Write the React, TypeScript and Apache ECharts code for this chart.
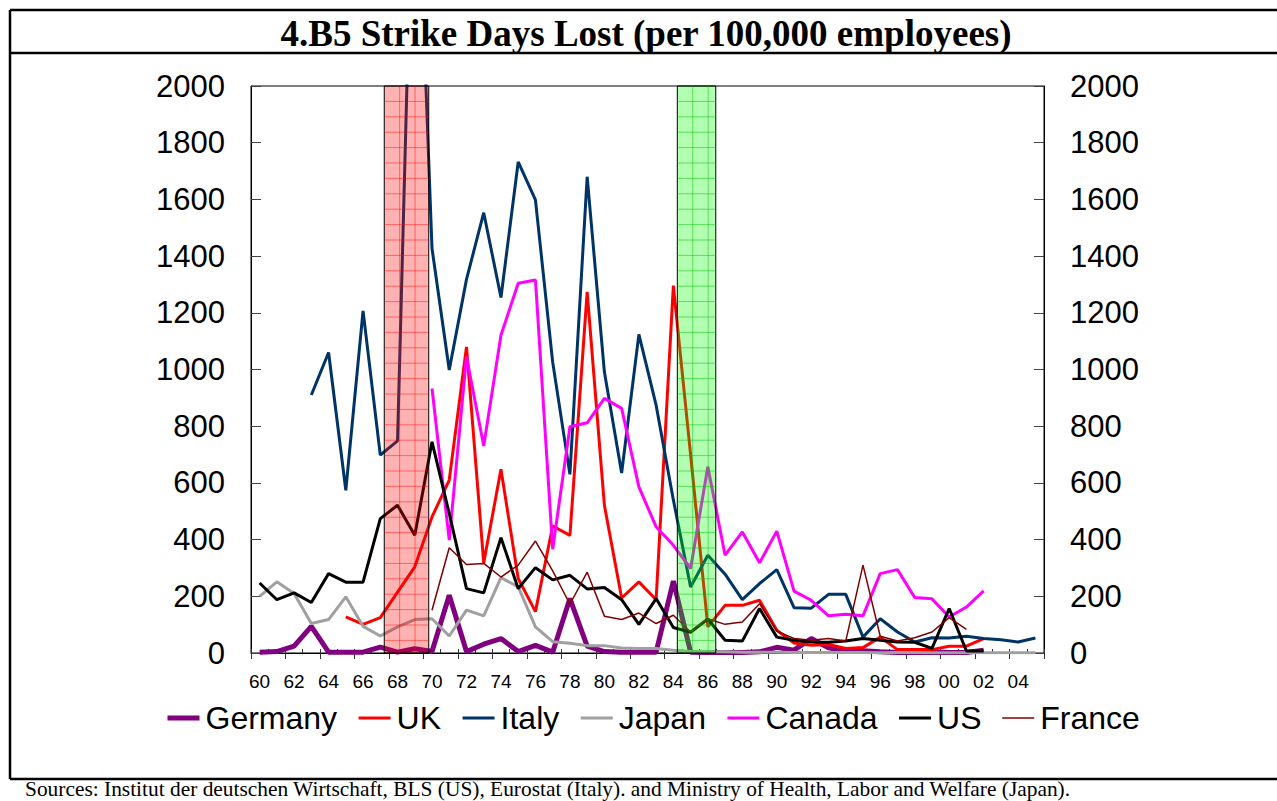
import React, { useEffect, useRef } from "react";
import * as echarts from "echarts";

const years = [
  "60","61","62","63","64","65","66","67","68","69",
  "70","71","72","73","74","75","76","77","78","79",
  "80","81","82","83","84","85","86","87","88","89",
  "90","91","92","93","94","95","96","97","98","99",
  "00","01","02","03","04","05",
];

const germany = [3,5,24,94,3,3,3,21,3,15, 5,204,5,31,51,5,27,3,192,24, 5,3,3,3,254,3,2,2,2,4, 20,10,51,18,8,8,4,2,2,3, 2,2,10,null,null,null];
const uk = [null,null,null,null,null,127,101,125,215,304, 480,610,1080,318,648,263,146,448,415,1274, 521,194,251,188,1296,700,92,168,168,186, 80,35,27,30,16,19,56,12,12,12, 24,24,51,null,null,null];
const italy = [null,null,null,910,1060,574,1207,698,748,3050, 1427,998,1318,1553,1254,1732,1598,1026,630,1680, 991,635,1124,874,540,233,345,278,188,245, 294,160,158,207,207,56,121,74,39,54, 53,59,51,47,39,53];
const japan = [200,251,210,104,118,198,94,60,92,118, 121,60,151,131,266,233,92,40,34,26, 26,18,16,16,10,5,5,4,3,3, 3,2,2,2,2,2,1,2,2,1, 1,1,1,1,1,1];
const canada = [null,null,null,null,null,null,null,null,null,null, 933,398,1045,730,1121,1304,1316,366,798,812, 898,863,586,445,380,298,657,345,427,318, 430,218,186,131,137,131,280,294,196,191, 127,162,219,null,null,null];
const us = [247,188,212,178,280,250,250,474,521,415, 745,492,227,212,407,227,301,258,274,226, 231,188,101,192,90,73,120,45,42,157, 56,45,39,38,42,51,45,39,38,16, 157,7,7,null,null,null];
const france = [null,null,null,null,null,null,null,null,null,null, 151,371,312,316,268,310,395,290,172,285, 130,118,141,104,133,74,121,101,109,174, 77,51,45,51,42,310,59,42,54,74, 125,83,null,null,null,null];

// shaded periods, in category-boundary units (0 = left edge of 1960)
const bandStart = [7.73, 24.73];
const bandEnd = [10.31, 26.96];

const seriesNames = ["Germany", "UK", "Italy", "Japan", "Canada", "US", "France"];
const seriesData = [germany, uk, italy, japan, canada, us, france];
const seriesColors = ["#800080", "#FF0000", "#003366", "#A0A0A0", "#FF00FF", "#000000", "#800000"];
const seriesWidths = [5, 3, 3, 3, 3, 3, 1.5];

const SANS = "'Liberation Sans', Arial, sans-serif";
const SERIF = "'Liberation Serif', 'Times New Roman', serif";

export default function App() {
  const ref = useRef<HTMLDivElement>(null);

  useEffect(() => {
    if (!ref.current) return;
    const chart = echarts.init(ref.current, null, { renderer: "svg" });

    const lineSeries = seriesNames.map((name, i) => ({
      name,
      type: "line",
      data: seriesData[i],
      xAxisIndex: 0,
      yAxisIndex: 0,
      symbol: "none",
      connectNulls: false,
      clip: true,
      z: 2,
      lineStyle: { color: seriesColors[i], width: seriesWidths[i] },
      itemStyle: { color: seriesColors[i] },
    }));

    const bandData = bandStart.map((s, i) => [s, bandEnd[i]]);
    const yLabel = (v: number) => String(v);

    const option: any = {
      animation: false,
      backgroundColor: "#fff",
      grid: {
        left: 251,
        right: 233,
        top: 86,
        bottom: 148,
        show: true,
        borderColor: "#000",
        borderWidth: 1,
        backgroundColor: "transparent",
      },
      legend: {
        data: seriesNames.map((n, i) => ({
          name: n,
          lineStyle: { color: seriesColors[i], width: seriesWidths[i] },
        })),
        left: 160,
        top: 697,
        itemWidth: 32,
        itemHeight: 12,
        itemGap: 20,
        itemStyle: { opacity: 0, borderWidth: 0 },
        textStyle: { fontSize: 32, fontFamily: SANS, color: "#000", padding: [0, 0, 0, 1] },
      },
      xAxis: [
        {
          type: "category",
          data: years,
          boundaryGap: true,
          position: "bottom",
          axisLine: { show: true, lineStyle: { color: "#000", width: 1 } },
          axisTick: { show: true, interval: 0, inside: true, length: 4, lineStyle: { color: "#333" } },
          axisLabel: { interval: 1, fontSize: 19, margin: 19, color: "#000", fontFamily: SANS },
          splitLine: { show: false },
        },
        {
          type: "value",
          min: 0,
          max: 46,
          interval: 2,
          position: "bottom",
          axisLine: { show: false },
          axisTick: { show: true, inside: false, length: 6, lineStyle: { color: "#333" } },
          axisLabel: { show: false },
          splitLine: { show: false },
        },
      ],
      yAxis: [
        {
          type: "value",
          min: 0,
          max: 2000,
          interval: 200,
          position: "left",
          axisLine: { show: true, lineStyle: { color: "#000" } },
          axisTick: { show: true, inside: true, length: 10, lineStyle: { color: "#444" } },
          axisLabel: { fontSize: 31, margin: 26, color: "#000", fontFamily: SANS, formatter: yLabel },
          splitLine: { show: false },
        },
        {
          type: "value",
          min: 0,
          max: 2000,
          interval: 200,
          position: "right",
          axisLine: { show: true, lineStyle: { color: "#000" } },
          axisTick: { show: true, inside: true, length: 10, lineStyle: { color: "#444" } },
          axisLabel: { fontSize: 31, margin: 26, color: "#000", fontFamily: SANS, formatter: yLabel },
          splitLine: { show: false },
        },
      ],
      series: [
        ...lineSeries,
        {
          name: "bands",
          type: "custom",
          xAxisIndex: 1,
          yAxisIndex: 0,
          z: 5,
          silent: true,
          data: bandData,
          renderItem: (params: any, api: any) => {
            const s = api.value(0);
            const e = api.value(1);
            const p0 = api.coord([s, 2000]);
            const p1 = api.coord([e, 0]);
            const x0 = p0[0], y0 = p0[1], x1 = p1[0], y1 = p1[1];
            const isRed = params.dataIndex === 0;
            const fill = isRed ? "rgba(255,0,0,0.3)" : "rgba(0,255,0,0.3)";
            const gridCol = isRed ? "rgba(255,0,0,0.45)" : "rgba(0,190,0,0.5)";
            const children: any[] = [
              {
                type: "rect",
                shape: { x: x0, y: y0, width: x1 - x0, height: y1 - y0 },
                style: { fill, stroke: "#000", lineWidth: 1 },
              },
            ];
            const step = 15.4;
            for (let y = y0 + step; y < y1; y += step) {
              children.push({
                type: "line",
                shape: { x1: x0, y1: y, x2: x1, y2: y },
                style: { stroke: gridCol, lineWidth: 1 },
              });
            }
            for (let x = x0 + step; x < x1 - 2; x += step) {
              children.push({
                type: "line",
                shape: { x1: x, y1: y0, x2: x, y2: y1 },
                style: { stroke: gridCol, lineWidth: 1 },
              });
            }
            return { type: "group", children };
          },
        },
      ],
      graphic: [
        { type: "line", shape: { x1: 10, y1: 10, x2: 1277, y2: 10 }, style: { stroke: "#000", lineWidth: 2.5 } },
        { type: "line", shape: { x1: 10, y1: 53, x2: 1277, y2: 53 }, style: { stroke: "#000", lineWidth: 2.5 } },
        { type: "line", shape: { x1: 10, y1: 779, x2: 1277, y2: 779 }, style: { stroke: "#000", lineWidth: 2.5 } },
        { type: "line", shape: { x1: 10, y1: 10, x2: 10, y2: 779 }, style: { stroke: "#000", lineWidth: 2.5 } },
        {
          type: "text",
          x: 646,
          y: 33,
          style: {
            text: "4.B5 Strike Days Lost (per 100,000 employees)",
            fontFamily: SERIF,
            fontWeight: "bold",
            fontSize: 37,
            fill: "#000",
            textAlign: "center",
            textVerticalAlign: "middle",
          },
        },
        {
          type: "text",
          x: 25,
          y: 789,
          style: {
            text: "Sources: Institut der deutschen Wirtschaft, BLS (US), Eurostat (Italy). and Ministry of Health, Labor and Welfare (Japan).",
            fontFamily: SERIF,
            fontSize: 21.4,
            fill: "#000",
            textAlign: "left",
            textVerticalAlign: "middle",
          },
        },
      ],
    };

    chart.setOption(option);
    return () => chart.dispose();
  }, []);

  return (
    <div
      ref={ref}
      style={{ position: "fixed", left: 0, top: 0, width: 1277, height: 801, background: "#fff" }}
    />
  );
}
